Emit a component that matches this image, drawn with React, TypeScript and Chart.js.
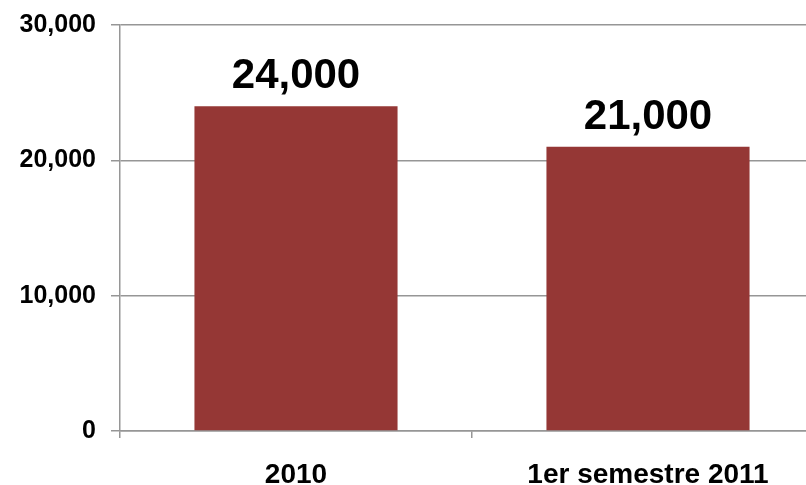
import React, { useEffect, useRef } from "react";
import { Chart, registerables } from "chart.js";

Chart.register(...registerables);

const categories = ["2010", "1er semestre 2011"];
const values = [24000, 21000];
const yMin = 0;
const yMax = 30000;
const yStep = 10000;

const BAR_COLOR = "#953735";
const GRID_COLOR = "#969696";
const FONT = "'Liberation Sans', Arial, sans-serif";

const fmt = (v: number) => v.toLocaleString("en-US");

const valueLabels = {
  id: "valueLabels",
  afterDatasetsDraw(chart: any) {
    const ctx = chart.ctx;
    const meta = chart.getDatasetMeta(0);
    ctx.save();
    ctx.font = `bold 42px ${FONT}`;
    ctx.fillStyle = "#000";
    ctx.textAlign = "center";
    ctx.textBaseline = "alphabetic";
    meta.data.forEach((bar: any, i: number) => {
      ctx.fillText(fmt(values[i]), bar.x, bar.y - 18);
    });
    ctx.restore();
  },
};

export default function App() {
  const ref = useRef<HTMLCanvasElement | null>(null);
  useEffect(() => {
    if (!ref.current) return;
    const chart = new Chart(ref.current, {
      type: "bar",
      data: {
        labels: categories,
        datasets: [
          {
            data: values,
            backgroundColor: BAR_COLOR,
            borderWidth: 0,
            barPercentage: 0.577,
            categoryPercentage: 1,
          },
        ],
      },
      options: {
        responsive: false,
        animation: false,
        layout: { padding: { top: 25, right: 0, bottom: 0, left: 0 } },
        plugins: {
          legend: { display: false },
          tooltip: { enabled: false },
        },
        scales: {
          x: {
            offset: true,
            grid: {
              offset: true,
              drawOnChartArea: false,
              drawTicks: true,
              tickLength: 7,
              color: GRID_COLOR,
              lineWidth: 1.5,
            },
            border: { color: GRID_COLOR, width: 1.5 },
            ticks: {
              color: "#000",
              font: { family: FONT, size: 28, weight: "bold" },
              padding: 20,
              maxRotation: 0,
              autoSkip: false,
            },
            afterFit: (scale: any) => {
              scale.height = 54;
              scale.paddingLeft = 0;
              scale.paddingRight = 0;
            },
          },
          y: {
            min: yMin,
            max: yMax,
            grid: {
              color: GRID_COLOR,
              lineWidth: 1.5,
              tickLength: 9,
            },
            border: { color: GRID_COLOR, width: 1.5 },
            ticks: {
              stepSize: yStep,
              color: "#000",
              font: { family: FONT, size: 25, weight: "bold" },
              padding: 15,
              callback: (v: any) => fmt(Number(v)),
            },
            afterFit: (scale: any) => {
              scale.width = 120;
              scale.paddingTop = 0;
              scale.paddingBottom = 0;
            },
          },
        },
      },
      plugins: [valueLabels],
    });
    return () => chart.destroy();
  }, []);
  return (
    <div
      style={{
        position: "fixed",
        left: 0,
        top: 0,
        width: 806,
        height: 485,
        overflow: "hidden",
        background: "#fff",
      }}
    >
      <canvas ref={ref} width={824} height={485} style={{ display: "block" }} />
    </div>
  );
}
